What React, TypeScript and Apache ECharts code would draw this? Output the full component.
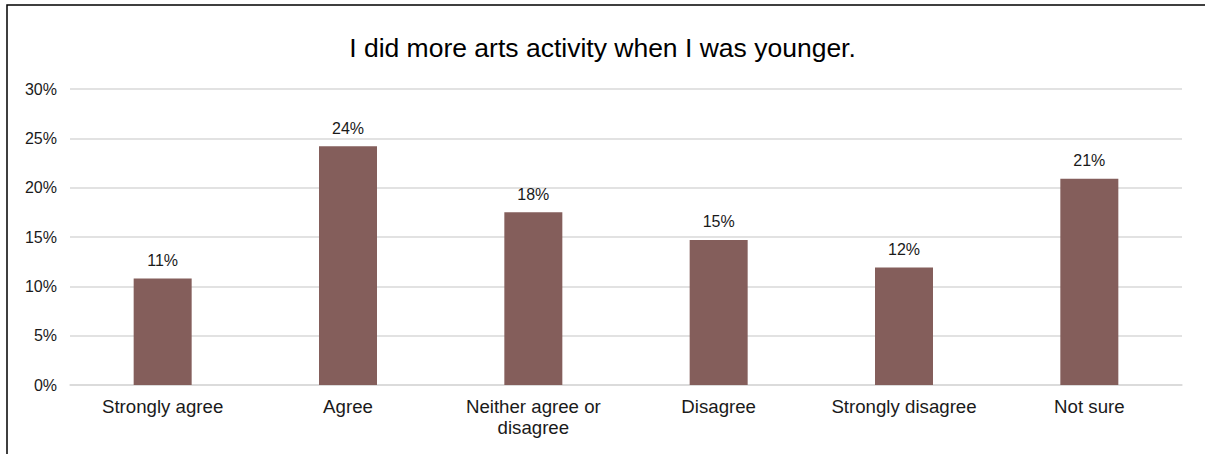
import React, { useEffect, useRef } from "react";
import * as echarts from "echarts";

const titleText = "I did more arts activity when I was younger.";
const categories = [
  "Strongly agree",
  "Agree",
  "Neither agree or\ndisagree",
  "Disagree",
  "Strongly disagree",
  "Not sure",
];
const values = [10.8, 24.2, 17.5, 14.7, 11.9, 20.9];
const yMin = 0;
const yMax = 30;
const yStep = 5;

const FONT = "'Liberation Sans', Arial, sans-serif";

export default function App() {
  const ref = useRef<HTMLDivElement>(null);
  useEffect(() => {
    document.body.style.margin = "0";
    if (!ref.current) return;
    const chart = echarts.init(ref.current, null, { renderer: "svg" });
    chart.setOption({
      animation: false,
      backgroundColor: "#ffffff",
      title: {
        text: titleText,
        left: "center",
        top: 29,
        textStyle: {
          fontFamily: FONT,
          fontSize: 26.5,
          fontWeight: "normal",
          color: "#000000",
        },
      },
      graphic: [
        {
          type: "rect",
          shape: { x: 7, y: 5, width: 1400, height: 700 },
          style: { fill: "none", stroke: "#000000", lineWidth: 1.5 },
          silent: true,
        },
      ],
      grid: { left: 70, right: 23, top: 89, bottom: 69 },
      xAxis: {
        type: "category",
        data: categories,
        axisTick: { show: false },
        axisLine: { lineStyle: { color: "#d9d9d9", width: 1.5 } },
        axisLabel: {
          interval: 0,
          margin: 11,
          fontFamily: FONT,
          fontSize: 18.67,
          lineHeight: 21,
          color: "#1a1a1a",
        },
      },
      yAxis: {
        type: "value",
        min: yMin,
        max: yMax,
        interval: yStep,
        axisLine: { show: false },
        axisTick: { show: false },
        splitLine: { lineStyle: { color: "#d9d9d9", width: 1.5 } },
        axisLabel: {
          formatter: "{value}%",
          margin: 13,
          fontFamily: FONT,
          fontSize: 16,
          color: "#1a1a1a",
        },
      },
      series: [
        {
          type: "bar",
          data: values,
          barWidth: 58,
          itemStyle: { color: "#845E5B" },
          label: {
            show: true,
            position: "top",
            distance: 10,
            fontFamily: FONT,
            fontSize: 16,
            color: "#1a1a1a",
            formatter: (p: any) => Math.round(p.value) + "%",
          },
        },
      ],
    });
    return () => chart.dispose();
  }, []);
  return <div ref={ref} style={{ width: 1205, height: 454 }} />;
}
